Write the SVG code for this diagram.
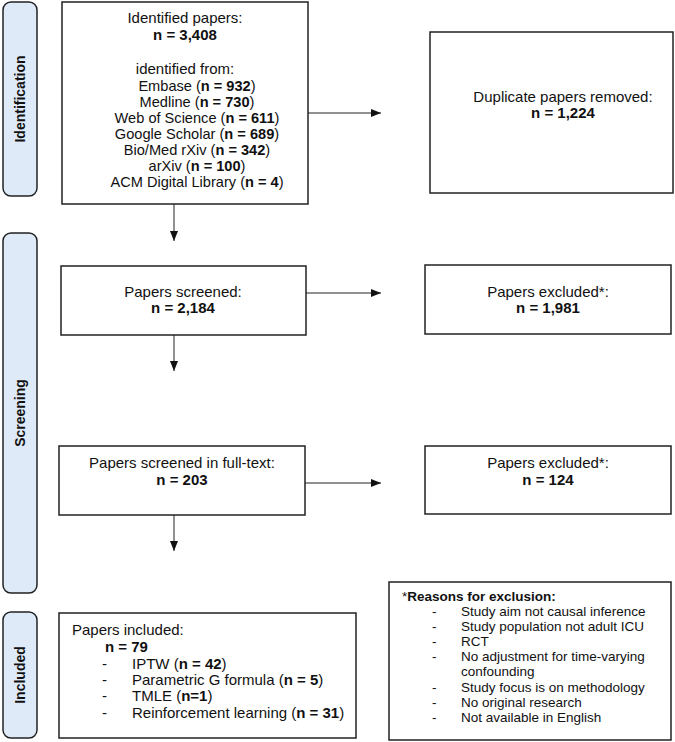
<svg xmlns="http://www.w3.org/2000/svg" width="675" height="742" viewBox="0 0 675 742">
<style>
.box{fill:#fff;stroke:#222;stroke-width:1.5}
.side{fill:#dfeaf8;stroke:#222;stroke-width:1.5}
text{font-family:"Liberation Sans",Arial,sans-serif;font-size:15px;fill:#111}
.c{text-anchor:middle}
.b{font-weight:bold}
.lab{font-weight:bold;font-size:14px;text-anchor:middle}
.r{font-size:13.5px}
.s{font-size:14.6px}
.con{stroke:#222;stroke-width:1;fill:none}
</style>
<defs>
<marker id="ah" markerWidth="10" markerHeight="8" refX="10" refY="4" orient="auto" markerUnits="userSpaceOnUse">
<path d="M0,0 L10,4 L0,8 Z" fill="#111"/>
</marker>
</defs>
<g id="side-identification">
<rect class="side" x="3" y="2" width="34" height="194" rx="8"/>
<text class="lab" transform="translate(25,99) rotate(-90)">Identification</text>
</g>
<g id="side-screening">
<rect class="side" x="3" y="233" width="34" height="360" rx="8"/>
<text class="lab" transform="translate(25,413) rotate(-90)">Screening</text>
</g>
<g id="side-included">
<rect class="side" x="3" y="612" width="34" height="126" rx="8"/>
<text class="lab" transform="translate(25,675) rotate(-90)">Included</text>
</g>
<g id="identified">
<rect class="box" x="62" y="2" width="246" height="202"/>
<text class="c" x="185" y="23">Identified papers:</text>
<text class="c b" x="185" y="40">n = 3,408</text>
<text class="c" x="185" y="74">identified from:</text>
<text class="c s" x="197" y="91">Embase (<tspan class="b">n = 932</tspan>)</text>
<text class="c s" x="197" y="107">Medline (<tspan class="b">n = 730</tspan>)</text>
<text class="c s" x="197" y="123">Web of Science (<tspan class="b">n = 611</tspan>)</text>
<text class="c s" x="197" y="139">Google Scholar (<tspan class="b">n = 689</tspan>)</text>
<text class="c s" x="197" y="155">Bio/Med rXiv (<tspan class="b">n = 342</tspan>)</text>
<text class="c s" x="197" y="171">arXiv (<tspan class="b">n = 100</tspan>)</text>
<text class="c s" x="197" y="187">ACM Digital Library (<tspan class="b">n = 4</tspan>)</text>
</g>
<g id="duplicates">
<rect class="box" x="430" y="32" width="243" height="161"/>
<text class="c" x="563" y="102">Duplicate papers removed:</text>
<text class="c b" x="563" y="118">n = 1,224</text>
</g>
<g id="screened">
<rect class="box" x="61" y="266" width="245" height="69"/>
<text class="c" x="183" y="297">Papers screened:</text>
<text class="c b" x="183" y="313">n = 2,184</text>
</g>
<g id="excluded1">
<rect class="box" x="425" y="265" width="246" height="69"/>
<text class="c" x="548" y="297">Papers excluded*:</text>
<text class="c b" x="548" y="313">n = 1,981</text>
</g>
<g id="fulltext">
<rect class="box" x="59" y="446" width="246" height="69"/>
<text class="c" x="182" y="468">Papers screened in full-text:</text>
<text class="c b" x="182" y="485">n = 203</text>
</g>
<g id="excluded2">
<rect class="box" x="425" y="446" width="246" height="68"/>
<text class="c" x="548" y="468">Papers excluded*:</text>
<text class="c b" x="548" y="485">n = 124</text>
</g>
<g id="included">
<rect class="box" x="59" y="613" width="297" height="125"/>
<text x="72" y="635">Papers included:</text>
<text class="b" x="105" y="652">n = 79</text>
<text x="102" y="669">-</text><text x="132" y="669">IPTW (<tspan class="b">n = 42</tspan>)</text>
<text x="102" y="685">-</text><text x="132" y="685">Parametric G formula (<tspan class="b">n = 5</tspan>)</text>
<text x="102" y="701">-</text><text x="132" y="701">TMLE (<tspan class="b">n=1</tspan>)</text>
<text x="102" y="718">-</text><text x="132" y="718">Reinforcement learning (<tspan class="b">n = 31</tspan>)</text>
</g>
<g id="reasons">
<rect class="box" x="389" y="582" width="282" height="158"/>
<text class="r" x="402" y="601">*<tspan class="b">Reasons for exclusion:</tspan></text>
<text class="r" x="432" y="616">-</text><text class="r" x="461" y="616">Study aim not causal inference</text>
<text class="r" x="432" y="631">-</text><text class="r" x="461" y="631">Study population not adult ICU</text>
<text class="r" x="432" y="646">-</text><text class="r" x="461" y="646">RCT</text>
<text class="r" x="432" y="661">-</text><text class="r" x="461" y="661">No adjustment for time-varying</text>
<text class="r" x="461" y="676">confounding</text>
<text class="r" x="432" y="692">-</text><text class="r" x="461" y="692">Study focus is on methodology</text>
<text class="r" x="432" y="707">-</text><text class="r" x="461" y="707">No original research</text>
<text class="r" x="432" y="722">-</text><text class="r" x="461" y="722">Not available in English</text>
</g>
<g id="connectors">
<line class="con" x1="308" y1="113" x2="381" y2="113" marker-end="url(#ah)"/>
<line class="con" x1="174" y1="204" x2="174" y2="241" marker-end="url(#ah)"/>
<line class="con" x1="306" y1="293" x2="381" y2="293" marker-end="url(#ah)"/>
<line class="con" x1="174" y1="335" x2="174" y2="371" marker-end="url(#ah)"/>
<line class="con" x1="305" y1="483" x2="381" y2="483" marker-end="url(#ah)"/>
<line class="con" x1="174" y1="515" x2="174" y2="551" marker-end="url(#ah)"/>
</g>
</svg>
